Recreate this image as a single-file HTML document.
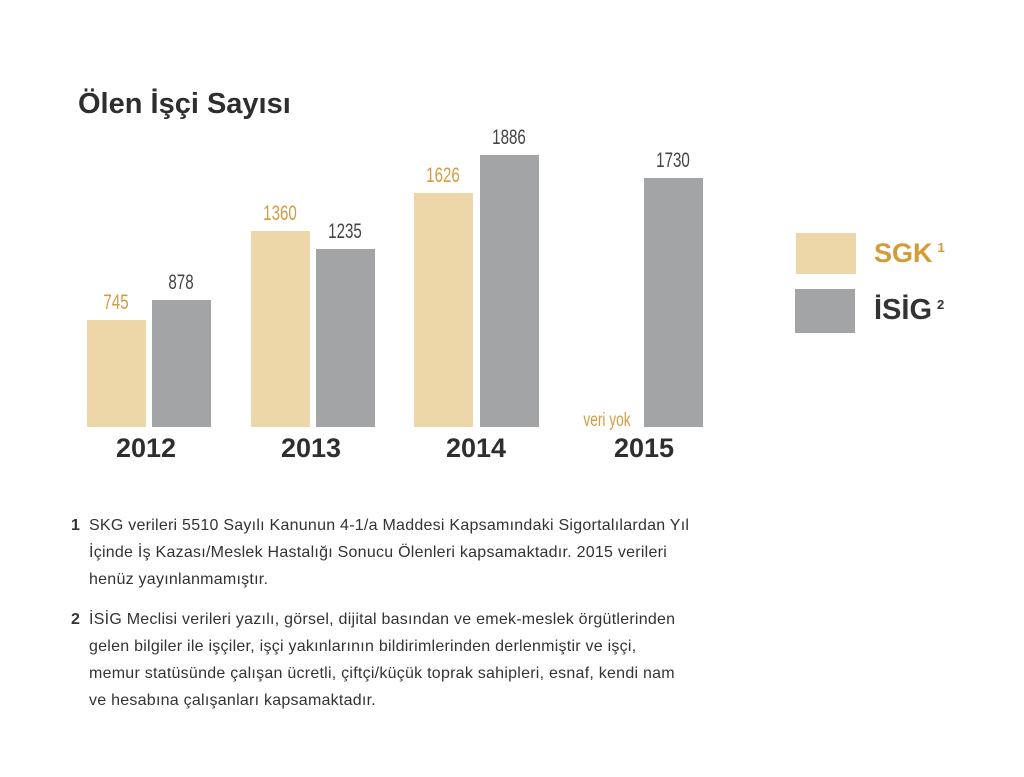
<!DOCTYPE html>
<html><head><meta charset="utf-8"><style>
body{margin:0;width:1024px;height:777px;background:#fff;position:relative;overflow:hidden;font-family:"Liberation Sans",sans-serif;color:#333}
.b{position:absolute}
.s{background:#edd7a9}
.g{background:#a3a4a6}
.v{position:absolute;font-size:21px;width:80px;text-align:center;transform:scaleX(0.72);}
.y{position:absolute;font-size:27px;font-weight:bold;width:120px;text-align:center;top:433px;color:#2e2e2e}
.n{position:absolute;font-size:16px;letter-spacing:0.25px;line-height:27px;color:#333;left:89px;white-space:nowrap}
.n b{position:absolute;left:-18px}
</style></head><body>
<div class="b" style="left:78px;top:88px;font-size:29px;font-weight:bold;color:#2e2e2e">Ölen İşçi Sayısı</div>

<div class="b s" style="left:87px;top:320px;width:59px;height:107px"></div>
<div class="b g" style="left:152px;top:300px;width:59px;height:127px"></div>
<div class="b s" style="left:251px;top:231px;width:59px;height:196px"></div>
<div class="b g" style="left:316px;top:249px;width:59px;height:178px"></div>
<div class="b s" style="left:414px;top:193px;width:59px;height:234px"></div>
<div class="b g" style="left:480px;top:155px;width:59px;height:272px"></div>
<div class="b g" style="left:644px;top:178px;width:59px;height:249px"></div>

<div class="v" style="left:76px;top:291px;color:#d49a43">745</div>
<div class="v" style="left:141px;top:271px;color:#444">878</div>
<div class="v" style="left:240px;top:202px;color:#d49a43">1360</div>
<div class="v" style="left:305px;top:220px;color:#444">1235</div>
<div class="v" style="left:403px;top:164px;color:#d49a43">1626</div>
<div class="v" style="left:469px;top:126px;color:#444">1886</div>
<div class="v" style="left:633px;top:149px;color:#444">1730</div>
<div class="v" style="left:567px;top:410px;color:#d49a43;font-size:19px">veri yok</div>

<div class="y" style="left:86px">2012</div>
<div class="y" style="left:251px">2013</div>
<div class="y" style="left:416px">2014</div>
<div class="y" style="left:584px">2015</div>

<div class="b s" style="left:796px;top:233px;width:60px;height:41px"></div>
<div class="b g" style="left:795px;top:289px;width:60px;height:44px"></div>
<div class="b" style="left:874px;top:238px;font-size:27px;font-weight:bold;color:#d49a33">SGK<sup style="font-size:13px;margin-left:5px;vertical-align:10px">1</sup></div>
<div class="b" style="left:874px;top:294px;font-size:29px;font-weight:bold;color:#333">İSİG<sup style="font-size:13px;margin-left:5px;vertical-align:10px">2</sup></div>

<div class="n" style="top:512px"><b>1</b>SKG verileri 5510 Sayılı Kanunun 4-1/a Maddesi Kapsamındaki Sigortalılardan Yıl<br>İçinde İş Kazası/Meslek Hastalığı Sonucu Ölenleri kapsamaktadır. 2015 verileri<br>henüz yayınlanmamıştır.</div>
<div class="n" style="top:606px"><b>2</b>İSİG Meclisi verileri yazılı, görsel, dijital basından ve emek-meslek örgütlerinden<br>gelen bilgiler ile işçiler, işçi yakınlarının bildirimlerinden derlenmiştir ve işçi,<br>memur statüsünde çalışan ücretli, çiftçi/küçük toprak sahipleri, esnaf, kendi nam<br>ve hesabına çalışanları kapsamaktadır.</div>
</body></html>
